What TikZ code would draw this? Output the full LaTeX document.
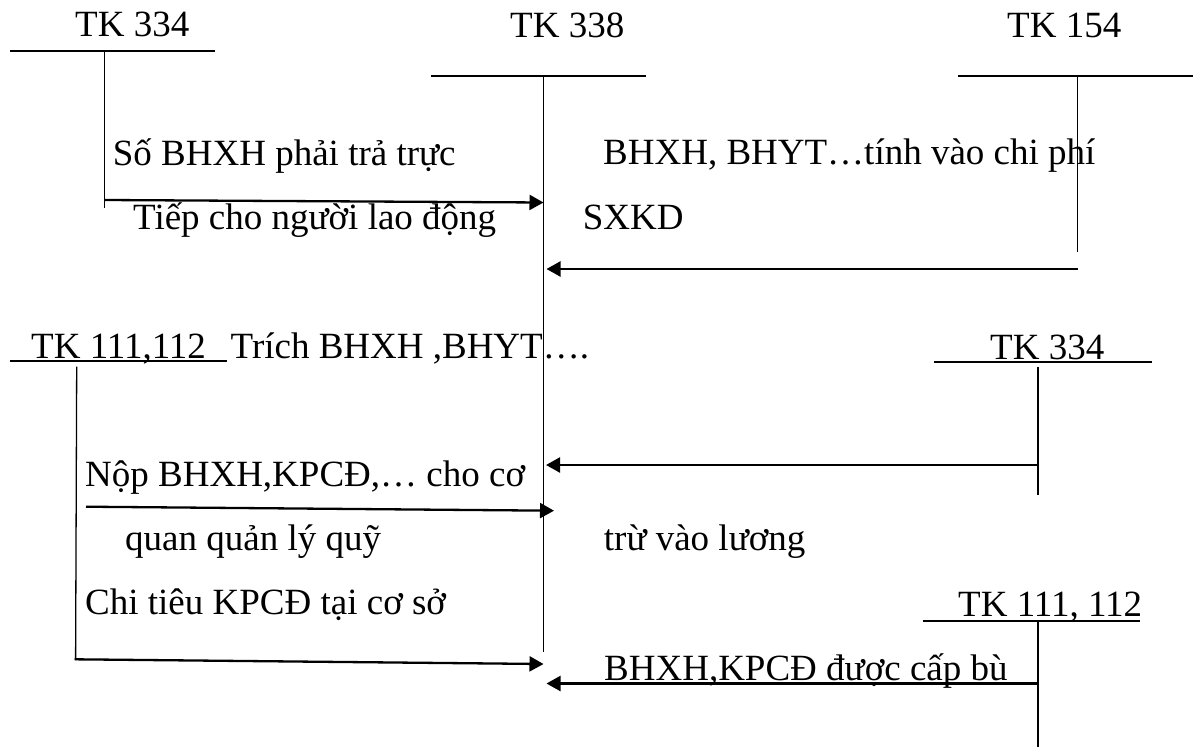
\documentclass[tikz,border=0pt]{standalone}
\usepackage{fontspec}
\setmainfont{Liberation Serif}
\usetikzlibrary{arrows.meta}
\begin{document}
\begin{tikzpicture}[x=1pt,y=-1pt,
  lbl/.style={anchor=base west,inner sep=0pt,font=\fontsize{37}{44}\selectfont},
  tline/.style={line width=1.6pt},
  vline/.style={line width=1.3pt},
  flow/.style={line width=2.3pt,-{Triangle[length=14pt,width=15pt]}}]
\useasboundingbox (0,0) rectangle (1193,747);

% ---- T-account headers
\node[lbl] (tk334a) at (75,36.7) {TK 334};
\node[lbl] (tk338) at (510,37) {TK 338};
\node[lbl] (tk154) at (1007,37) {TK 154};
\node[lbl] (tk111l) at (31,358) {TK 111,112};
\node[lbl] (trich) at (230.5,358) {Trích BHXH ,BHYT….};
\node[lbl] (tk334b) at (990,359) {TK 334};
\node[lbl] (tk111r) at (958,616) {TK 111, 112};

% ---- T-account lines
\draw[tline] (10,50.7) -- (215,50.7);
\draw[vline] (104.5,50.7) -- (104.5,208);
\draw[tline] (431,76) -- (646,76);
\draw[vline] (543.5,76) -- (543.5,652);
\draw[tline] (958,76) -- (1193,76);
\draw[vline] (1077.5,76) -- (1077.5,252);
\draw[tline] (9.6,361) -- (226.5,361);
\draw[vline] (76.7,366.7) -- (75.6,660);
\draw[tline] (934,362) -- (1152,362);
\draw[vline] (1038,366.7) -- (1038,495);
\draw[tline] (922.6,621) -- (1140,621);
\draw[vline] (1038,621.7) -- (1038,747);

% ---- labels
\node[lbl] (t1) at (112.7,165.5) {Số BHXH phải trả trực};
\node[lbl] (t2) at (133,229.5) {Tiếp cho người lao động};
\node[lbl] (t3) at (603,164.5) {BHXH, BHYT…tính vào chi phí};
\node[lbl] (t4) at (582.7,229.5) {SXKD};
\node[lbl] (t5) at (85,486.7) {Nộp BHXH,KPCĐ,… cho cơ};
\node[lbl] (t6) at (125,550) {quan quản lý quỹ};
\node[lbl] (t7) at (603.7,550) {trừ vào lương};
\node[lbl] (t8) at (85,614) {Chi tiêu KPCĐ tại cơ sở};
\node[lbl] (t9) at (604,680) {BHXH,KPCĐ được cấp bù};

% ---- connector end points
\coordinate (a1s) at (104.5,200);   \coordinate (a1e) at (543.5,202.5);
\coordinate (a2s) at (1077.5,269);  \coordinate (a2e) at (546.5,269);
\coordinate (a3s) at (1038,465);    \coordinate (a3e) at (546,465);
\coordinate (a4s) at (86,506.7);    \coordinate (a4e) at (554,510.7);
\coordinate (a5s) at (74.7,659.3);  \coordinate (a5e) at (543.5,664);
\coordinate (a6s) at (1038,683.5);  \coordinate (a6e) at (546.5,683.5);

\draw[flow] (a1s) -- (a1e);
\draw[flow] (a2s) -- (a2e);
\draw[flow] (a3s) -- (a3e);
\draw[flow] (a4s) -- (a4e);
\draw[flow] (a5s) -- (a5e);
\draw[flow] (a6s) -- (a6e);
\end{tikzpicture}
\end{document}
